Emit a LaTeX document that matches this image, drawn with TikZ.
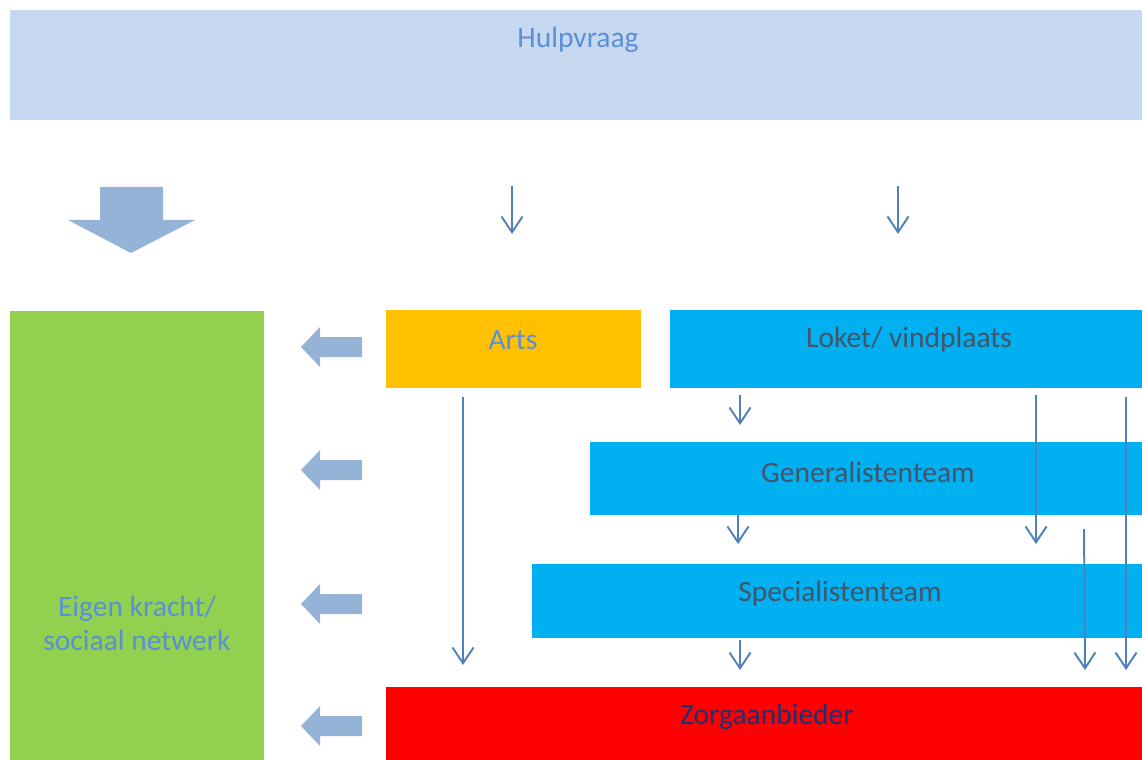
\documentclass[tikz,border=0pt]{standalone}
\usepackage{fontspec}
\setmainfont{Carlito}
\usetikzlibrary{arrows.meta}
\definecolor{hulpfill}{HTML}{C6D9F0}
\definecolor{lblue}{HTML}{5B8FD6}
\definecolor{slate}{HTML}{44546A}
\definecolor{navy}{HTML}{1F3070}
\definecolor{cyanbox}{HTML}{00B0F0}
\definecolor{orangebox}{HTML}{FFC000}
\definecolor{greenbox}{HTML}{92D050}
\definecolor{blockarr}{HTML}{95B3D7}
\definecolor{linearr}{HTML}{4F81BD}
\tikzset{
  box/.style={draw=none, anchor=north west, inner sep=0pt},
  txt/.style={font=\fontsize{16.8pt}{19.3pt}\selectfont, inner sep=0pt, align=center},
  arr/.style={draw=linearr, line width=1.1pt, -{Straight Barb[length=9pt,width=12pt,line width=1.1pt]}},
  blk/.style={fill=blockarr, draw=none}
}
\begin{document}
\begin{tikzpicture}[x=0.02cm,y=-0.02cm]
\useasboundingbox (0,0) rectangle (1142,760);
% boxes
\node[box, fill=hulpfill, minimum width=1132*0.02cm, minimum height=110*0.02cm] (hulp) at (10,10) {};
\node[txt, text=lblue] (hulpt) at (578,40) {Hulpvraag};
\node[box, fill=greenbox, minimum width=254*0.02cm, minimum height=449*0.02cm] (eigen) at (10,311) {};
\node[txt, text=lblue] (eigent) at (137,623) {Eigen kracht/\\sociaal netwerk};
\node[box, fill=orangebox, minimum width=255*0.02cm, minimum height=78*0.02cm] (arts) at (386,310) {};
\node[txt, text=lblue] (artst) at (513,340) {Arts};
\node[box, fill=cyanbox, minimum width=472*0.02cm, minimum height=78*0.02cm] (loket) at (670,310) {};
\node[txt, text=slate] (lokett) at (909,340) {Loket/ vindplaats};
\node[box, fill=cyanbox, minimum width=552*0.02cm, minimum height=73*0.02cm] (gen) at (590,442) {};
\node[txt, text=slate] (gent) at (868,472) {Generalistenteam};
\node[box, fill=cyanbox, minimum width=610*0.02cm, minimum height=74*0.02cm] (spec) at (532,564) {};
\node[txt, text=slate] (spect) at (840,594) {Specialistenteam};
\node[box, fill=red, minimum width=756*0.02cm, minimum height=73*0.02cm] (zorg) at (386,687) {};
\node[txt, text=navy] (zorgt) at (767,717) {Zorgaanbieder};
% big down arrow
\fill[blk] (100,187) -- (163,187) -- (163,220) -- (195,220) -- (131,253) -- (68,220) -- (100,220) -- cycle;
% left block arrows
\foreach \yy in {347,470,604,726}{
  \fill[blk] (362,\yy-10) -- (320,\yy-10) -- (320,\yy-20) -- (301,\yy) -- (320,\yy+20) -- (320,\yy+10) -- (362,\yy+10) -- cycle;
}
% coordinates for line arrows
\coordinate (t1s) at (512,186); \coordinate (t1e) at (512,234);
\coordinate (t2s) at (898,186); \coordinate (t2e) at (898,234);
\coordinate (a1s) at (463,397); \coordinate (a1e) at (463,665);
\coordinate (l1s) at (740,395); \coordinate (l1e) at (740,425);
\coordinate (l2s) at (1036,395); \coordinate (l2e) at (1036,544);
\coordinate (l3s) at (1126,397); \coordinate (l3e) at (1126,670);
\coordinate (g1s) at (738,515); \coordinate (g1e) at (738,544);
\coordinate (g2s) at (1084,529); \coordinate (g2e) at (1085,670);
\coordinate (s1s) at (740,640); \coordinate (s1e) at (740,670);
\draw[arr] (t1s) -- (t1e);
\draw[arr] (t2s) -- (t2e);
\draw[arr] (a1s) -- (a1e);
\draw[arr] (l1s) -- (l1e);
\draw[arr] (l2s) -- (l2e);
\draw[arr] (l3s) -- (l3e);
\draw[arr] (g1s) -- (g1e);
\draw[arr] (g2s) -- (g2e);
\draw[arr] (s1s) -- (s1e);
\end{tikzpicture}
\end{document}
